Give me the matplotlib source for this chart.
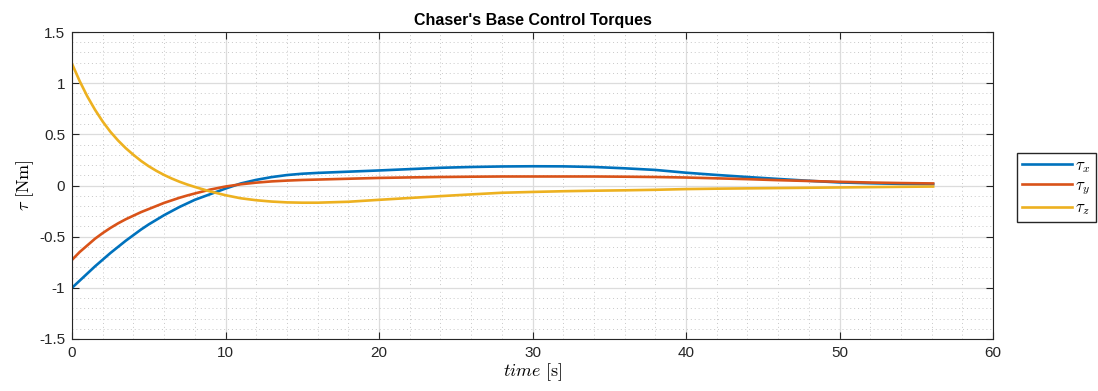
import matplotlib
matplotlib.use("Agg")
import matplotlib.pyplot as plt
from matplotlib.ticker import MultipleLocator

t = [0, 0.5, 1, 1.5, 2, 2.5, 3, 3.5, 4, 4.5, 5, 5.5, 6, 6.5, 7, 7.5, 8, 9, 10, 11, 12,
     13, 14, 15, 16, 18, 20, 22, 24, 26, 28, 30, 32, 34, 36, 38, 40, 42, 44, 46,
     48, 50, 52, 54, 56.1]
tau_x = [-1.0, -0.93, -0.86, -0.79, -0.725, -0.66, -0.6, -0.54, -0.485, -0.43,
         -0.38, -0.335, -0.29, -0.25, -0.21, -0.175, -0.14, -0.085,
         -0.03, 0.02, 0.055, 0.082, 0.102, 0.115, 0.123, 0.135, 0.147, 0.16, 0.173,
         0.181, 0.186, 0.188, 0.187, 0.181, 0.168, 0.152, 0.125, 0.103, 0.083,
         0.064, 0.046, 0.03, 0.022, 0.016, 0.013]
tau_y = [-0.727, -0.65, -0.585, -0.52, -0.465, -0.415, -0.37, -0.33, -0.295, -0.26,
         -0.23, -0.2, -0.17, -0.145, -0.12, -0.098, -0.078, -0.04,
         -0.01, 0.012, 0.028, 0.04, 0.048, 0.054, 0.058, 0.066, 0.074, 0.079, 0.083,
         0.086, 0.088, 0.088, 0.088, 0.088, 0.086, 0.083, 0.078, 0.07, 0.062,
         0.052, 0.044, 0.036, 0.029, 0.024, 0.02]
tau_z = [1.19, 1.02, 0.87, 0.74, 0.625, 0.525, 0.44, 0.365, 0.3, 0.24,
         0.188, 0.143, 0.103, 0.068, 0.037, 0.01, -0.014, -0.058,
         -0.095, -0.125, -0.144, -0.157, -0.165, -0.168, -0.168, -0.159, -0.14,
         -0.122, -0.104, -0.087, -0.071, -0.063, -0.056, -0.051, -0.047, -0.042,
         -0.035, -0.031, -0.028, -0.025, -0.022, -0.019, -0.016, -0.013, -0.01]
labels = [r"$\tau_x$", r"$\tau_y$", r"$\tau_z$"]
colors = ["#0072BD", "#D95319", "#EDB120"]

plt.rcParams['font.family'] = ['Liberation Sans', 'DejaVu Sans']
plt.rcParams['mathtext.fontset'] = 'cm'

fig = plt.figure(figsize=(10.98, 3.91), dpi=100)
ax = fig.add_axes([72/1098, 1-339/391, (993-72)/1098, (339-32)/391])

for y, lab, c in zip([tau_x, tau_y, tau_z], labels, colors):
    ax.plot(t, y, color=c, lw=1.9, label=lab)

ax.set_xlim(0, 60)
ax.set_ylim(-1.5, 1.5)
ax.xaxis.set_major_locator(MultipleLocator(10))
ax.xaxis.set_minor_locator(MultipleLocator(2))
ax.yaxis.set_minor_locator(MultipleLocator(0.1))
ax.set_yticks([-1.5, -1, -0.5, 0, 0.5, 1, 1.5])
ax.set_yticklabels(['-1.5', '-1', '-0.5', '0', '0.5', '1', '1.5'])

ax.grid(which='major', color='#dcdcdc', lw=0.9, ls='-')
ax.grid(which='minor', color='#c8c8c8', lw=0.7, ls=(0, (1, 3)))
ax.set_axisbelow(True)
ax.tick_params(which='major', direction='in', length=5, width=0.8, colors='#262626',
               labelsize=11, top=True, right=True, pad=5)
ax.tick_params(which='minor', length=0)
for s in ax.spines.values():
    s.set_color('#262626')
    s.set_linewidth(0.8)

ax.set_title("Chaser's Base Control Torques", fontsize=11.5, fontweight='bold', pad=5)
ax.set_xlabel(r"$time\ [\mathrm{s}]$", fontsize=13, labelpad=1)
ax.set_ylabel(r"$\tau\ [\mathrm{Nm}]$", fontsize=13, labelpad=2)

fig.legend(loc='upper left', bbox_to_anchor=(1017/1098, 1-153/391), borderaxespad=0,
           fontsize=12, handlelength=3.0, frameon=True, fancybox=False,
           edgecolor='#262626', framealpha=1, labelspacing=0.2, handletextpad=0.2,
           borderpad=0.3)

fig.savefig("out.png", dpi=100)
